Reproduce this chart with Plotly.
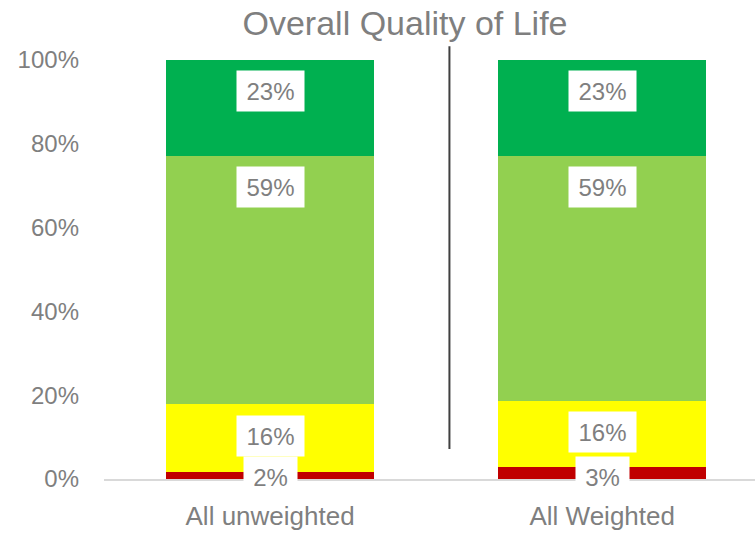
import plotly.graph_objects as go

categories = ["All unweighted", "All Weighted"]
series_names = ["Very poor/poor", "Neither", "Good", "Very good"]
red_vals = [1.7, 2.9]
yellow_vals = [16.1, 15.7]
lightgreen_vals = [59.3, 58.6]
green_vals = [22.9, 22.8]
y_ticks = [0, 20, 40, 60, 80, 100]
y_tick_labels = ["0%", "20%", "40%", "60%", "80%", "100%"]
title_text = "Overall Quality of Life"

series = [red_vals, yellow_vals, lightgreen_vals, green_vals]
colors = ["#c00000", "#ffff00", "#92d050", "#00b050"]
FONT = "Liberation Sans, Arial, sans-serif"
GREY = "#7f7f7f"

fig = go.Figure()
for name, vals, col in zip(series_names, series, colors):
    fig.add_trace(go.Bar(
        x=categories, y=vals, name=name, marker=dict(color=col, line=dict(width=0)),
        width=0.627, hoverinfo="skip", showlegend=False,
    ))

annotations = []
for ci, cat in enumerate(categories):
    cum = 0
    items = []
    for vals in series:
        cum += vals[ci]
        items.append((cum, vals[ci]))
    for top, v in reversed(items):
        txt = f"{round(v):.0f}%"
        ypos = max(top - 7.5, 0.5)
        annotations.append(dict(
            x=cat, y=ypos, xref="x", yref="y", text=txt, showarrow=False,
            font=dict(family=FONT, size=24, color=GREY),
            bgcolor="white", borderpad=5, width=14 * len(txt) + 15, height=30,
            xanchor="center", yanchor="middle",
        ))

fig.update_layout(
    width=755, height=538,
    barmode="stack",
    paper_bgcolor="white", plot_bgcolor="white",
    margin=dict(l=104, r=0, t=60, b=59),
    title=dict(text=title_text, x=405 / 755, xanchor="center", y=1 - 23 / 538, yanchor="middle",
               font=dict(family=FONT, size=34, color=GREY)),
    annotations=annotations,
    shapes=[dict(type="line", xref="x", yref="paper", x0=0.54, x1=0.54, y0=0.0716, y1=1.033,
                 line=dict(color="#404040", width=2))],
    font=dict(family=FONT, color=GREY),
)
fig.update_xaxes(
    range=[-0.5, 1.46], showline=True, linecolor="#d9d9d9", linewidth=2,
    showgrid=False, ticks="", tickfont=dict(family=FONT, size=26, color=GREY),
    ticklabelstandoff=13,
)
fig.update_yaxes(
    range=[0, 100], tickvals=y_ticks, ticktext=y_tick_labels, showgrid=False,
    zeroline=False, showline=False, ticks="",
    tickfont=dict(family=FONT, size=24, color=GREY), ticklabelstandoff=24,
)

fig.write_html("out.html", config={"displayModeBar": False},
               post_script="document.body.style.margin='0';")
